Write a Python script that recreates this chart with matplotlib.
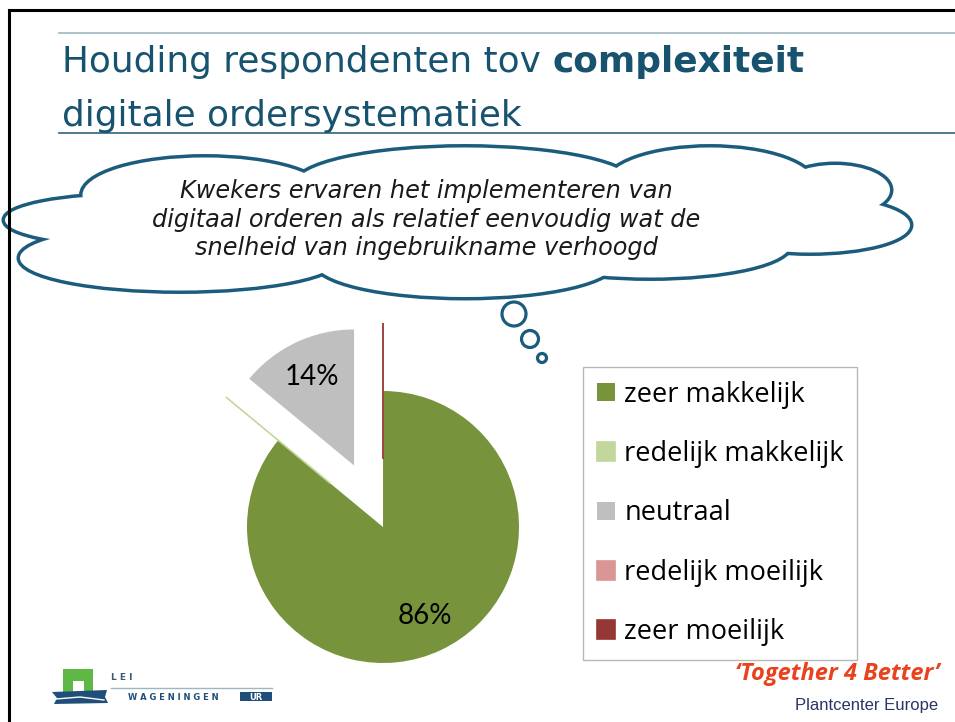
import matplotlib.pyplot as plt
from matplotlib.patches import Ellipse, Circle, Rectangle, Polygon

# pie data
categories = ['zeer makkelijk', 'redelijk makkelijk', 'neutraal',
              'redelijk moeilijk', 'zeer moeilijk']
shares = [86, 0, 14, 0, 0]
slice_colors = ['#77933C', '#C3D69B', '#BFBFBF', '#D99694', '#953735']

title_plain = 'Houding respondenten tov '
title_bold = 'complexiteit'
title_line2 = 'digitale ordersystematiek'
bubble_lines = ['Kwekers ervaren het implementeren van',
                'digitaal orderen als relatief eenvoudig wat de',
                'snelheid van ingebruikname verhoogd']

W, H = 955, 722
teal = '#17526F'
cloud_col = '#1B5C7C'

fig = plt.figure(figsize=(W / 100, H / 100), dpi=100)
bg = fig.add_axes([0, 0, 1, 1])
bg.set_xlim(0, W)
bg.set_ylim(H, 0)
bg.axis('off')

# slide frame + title rules
bg.plot([9, 9], [10, H], color='black', lw=2.2)
bg.plot([9, W], [10, 10], color='black', lw=2.2)
bg.plot([59, W], [33, 33], color='#9DB6C4', lw=1.2)
bg.plot([59, W], [133, 133], color='#2F6580', lw=1.2)

# title
t1 = bg.text(62, 72, title_plain, fontsize=25.8, color=teal, family='DejaVu Sans',
             va='baseline')
fig.canvas.draw()
bb = t1.get_window_extent(fig.canvas.get_renderer())
x_end = bg.transData.inverted().transform((bb.x1, bb.y0))[0]
bg.text(x_end, 72, title_bold, fontsize=25.8, color=teal, family='DejaVu Sans',
        fontweight='bold', va='baseline')
bg.text(62, 126, title_line2, fontsize=25.8, color=teal, family='DejaVu Sans',
        va='baseline')

# thought cloud: union of ellipses (outline pass, then white fill pass)
bumps = [(205, 195, 245, 75), (465, 185, 340, 75), (710, 185, 210, 75),
         (835, 190, 110, 50), (810, 225, 200, 55), (650, 245, 280, 65),
         (465, 262, 300, 70), (180, 258, 320, 65), (135, 220, 260, 50)]
for cx, cy, w, h in bumps:
    bg.add_patch(Ellipse((cx, cy), w, h, facecolor='white', edgecolor=cloud_col, lw=5))
for cx, cy, w, h in bumps:
    bg.add_patch(Ellipse((cx, cy), w, h, facecolor='white', edgecolor='none'))
bg.add_patch(Ellipse((460, 222), 700, 100, facecolor='white', edgecolor='none'))
for (x, y), r in [((514, 314), 12), ((530, 339), 8.5), ((542, 358), 4.5)]:
    bg.add_patch(Circle((x, y), r, facecolor='white', edgecolor=cloud_col, lw=2.3))

for i, line in enumerate(bubble_lines):
    bg.text(426, 198 + i * 28.5, line, fontsize=17.3, style='italic', color='#1A1A1A',
            family='DejaVu Sans', ha='center', va='baseline')

# pie
R = 136
pcx, pcy = 383, 527
xl, yl = (-1.5, 1.5), (-1.05, 1.6)
pax = fig.add_axes([(pcx + xl[0] * R) / W, (H - pcy + yl[0] * R) / H,
                    (xl[1] - xl[0]) * R / W, (yl[1] - yl[0]) * R / H])
wedges, texts, autotexts = pax.pie(
    shares, colors=slice_colors, startangle=90, counterclock=False,
    explode=[0, 0.5, 0.5, 0.5, 0.5],
    autopct=lambda p: f'{p:.0f}%' if p > 0 else '', pctdistance=0.72,
    textprops=dict(fontsize=20, family='Lato', color='black'))
for wdg, val, col in zip(wedges, shares, slice_colors):
    if val == 0:
        wdg.set_edgecolor(col)
        wdg.set_linewidth(1.2)
pax.set_xlim(xl)
pax.set_ylim(yl)
pax.axis('off')

leg = fig.legend(wedges, categories, loc='upper left',
                 bbox_to_anchor=(583 / W, 1 - 367 / H), frameon=True, fancybox=False,
                 edgecolor='#A6A6A6', prop=dict(family='Open Sans', size=19.5),
                 handlelength=0.67, handleheight=0.67, handletextpad=0.35,
                 labelspacing=1.16, borderpad=0.5, borderaxespad=0)
leg.get_frame().set_linewidth(1.0)

# LEI Wageningen UR logo
bg.add_patch(Rectangle((63, 669), 30, 25, facecolor='#5DB845', edgecolor='none'))
bg.add_patch(Rectangle((73, 681), 11, 14, facecolor='white', edgecolor='none'))
bg.add_patch(Polygon([(52, 692), (107, 690), (105, 697), (108, 703), (54, 704), (57, 698)],
                     facecolor='#1F4E79', edgecolor='none'))
bg.plot([56, 80, 104], [699, 697, 700], color='white', lw=1)
bg.text(111, 680, 'L E I', fontsize=6.5, color='#3A5A78', fontweight='bold', va='baseline')
bg.plot([111, 272], [688, 688], color='#9DB6C4', lw=1)
bg.text(128, 700, 'W A G E N I N G E N', fontsize=6, color='#1F4E79', fontweight='bold',
        va='baseline')
bg.add_patch(Rectangle((240, 692), 32, 9, facecolor='#1F4E79', edgecolor='none'))
bg.text(256, 700, 'UR', fontsize=6, color='white', fontweight='bold', ha='center',
        va='baseline')

# Plantcenter branding
bg.text(940, 680, '\u2018Together 4 Better\u2019', fontsize=17, color='#E8431E',
        family='Open Sans', fontweight='bold', style='italic', ha='right', va='baseline')
bg.text(938, 710, 'Plantcenter Europe', fontsize=12, color='#2B3467',
        family=['Liberation Sans Narrow', 'Liberation Sans'], ha='right', va='baseline')

fig.savefig('out.png', dpi=100)
